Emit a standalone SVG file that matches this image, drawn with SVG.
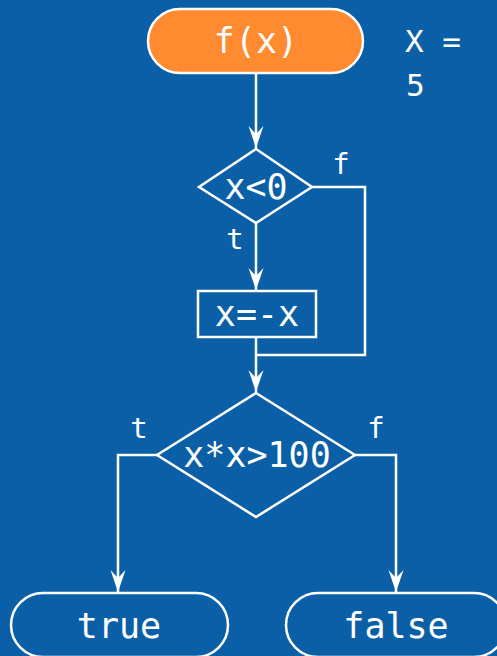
<svg xmlns="http://www.w3.org/2000/svg" width="497" height="656" viewBox="0 0 497 656">
  <style>
    .shape { fill: none; stroke: #ffffff; stroke-width: 2.5; }
    .start { fill: #ff8a30; stroke: #ffffff; stroke-width: 2.5; }
    .edge { fill: none; stroke: #ffffff; stroke-width: 2.5; marker-end: url(#arrow); }
    .edge-plain { fill: none; stroke: #ffffff; stroke-width: 2.5; }
    .label { font-family: "DejaVu Sans Mono", "Liberation Mono", monospace; font-size: 35px; fill: #ffffff; text-anchor: middle; dominant-baseline: central; }
    .branch { font-family: "DejaVu Sans Mono", "Liberation Mono", monospace; font-size: 29px; fill: #ffffff; text-anchor: middle; }
    .note { font-family: "DejaVu Sans Mono", "Liberation Mono", monospace; font-size: 31px; fill: #ffffff; }
  </style>
  <defs>
    <marker id="arrow" markerUnits="userSpaceOnUse" markerWidth="24" markerHeight="18" viewBox="-23 -9 24 18" refX="0" refY="0" orient="auto">
      <path d="M0,0 L-22,-7.5 L-14,0 L-22,7.5 Z" fill="#ffffff"/>
    </marker>
  </defs>

  <rect width="497" height="656" fill="#0b5fa7"/>

  <g id="connectors">
    <path class="edge" d="M256,73 V148"/>
    <path class="edge" d="M256,223 V290"/>
    <path class="edge" d="M256,337 V392"/>
    <path class="edge-plain" d="M312,187 H365 V355 H256"/>
    <path class="edge" d="M157,455 H118 V592"/>
    <path class="edge" d="M355,455 H396 V592"/>
  </g>

  <g id="start">
    <rect class="start" x="148" y="9" width="215" height="64" rx="32"/>
    <text class="label" x="256" y="41">f(x)</text>
  </g>

  <g id="note">
    <text class="note" x="405" y="52">X =</text>
    <text class="note" x="406" y="96">5</text>
  </g>

  <g id="check-negative">
    <polygon class="shape" points="256,149 312,187 256,223 199,187"/>
    <text class="label" x="256" y="187">x&lt;0</text>
    <text class="branch" x="341" y="174">f</text>
    <text class="branch" x="235" y="249">t</text>
  </g>

  <g id="negate">
    <rect class="shape" x="198" y="291" width="118" height="46"/>
    <text class="label" x="257" y="314">x=-x</text>
  </g>

  <g id="check-square">
    <polygon class="shape" points="256,393 355,455 256,517 157,455"/>
    <text class="label" x="257" y="455">x*x&gt;100</text>
    <text class="branch" x="139" y="438">t</text>
    <text class="branch" x="376" y="438">f</text>
  </g>

  <g id="result-true">
    <rect class="shape" x="11" y="593" width="217" height="64" rx="32"/>
    <text class="label" x="119" y="626">true</text>
  </g>

  <g id="result-false">
    <rect class="shape" x="286" y="593" width="220" height="64" rx="32"/>
    <text class="label" x="396" y="626">false</text>
  </g>
</svg>
